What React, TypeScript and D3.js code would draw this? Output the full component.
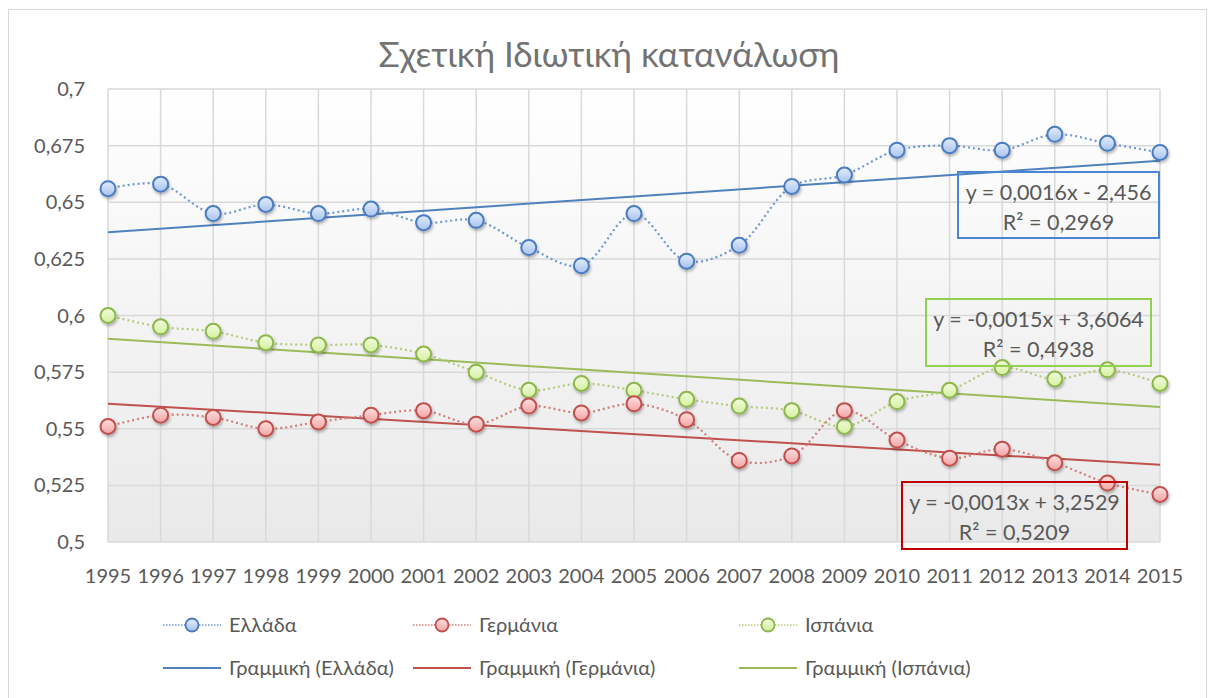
import React, { useRef, useEffect } from 'react';
import * as d3 from 'd3';

const years = d3.range(1995, 2016);
const greece = [0.656, 0.658, 0.645, 0.649, 0.645, 0.647, 0.641, 0.642, 0.630, 0.622, 0.645, 0.624, 0.631, 0.657, 0.662, 0.673, 0.675, 0.673, 0.680, 0.676, 0.672];
const germany = [0.551, 0.556, 0.555, 0.550, 0.553, 0.556, 0.558, 0.552, 0.560, 0.557, 0.561, 0.554, 0.536, 0.538, 0.558, 0.545, 0.537, 0.541, 0.535, 0.526, 0.521];
const spain = [0.600, 0.595, 0.593, 0.588, 0.587, 0.587, 0.583, 0.575, 0.567, 0.570, 0.567, 0.563, 0.560, 0.558, 0.551, 0.562, 0.567, 0.577, 0.572, 0.576, 0.570];
const yTicks = [0.5, 0.525, 0.55, 0.575, 0.6, 0.625, 0.65, 0.675, 0.7];
const seriesNames = ['Ελλάδα', 'Γερμάνια', 'Ισπάνια'];
const equations = [
  ['y = 0,0016x - 2,456', 'R² = 0,2969'],
  ['y = -0,0013x + 3,2529', 'R² = 0,5209'],
  ['y = -0,0015x + 3,6064', 'R² = 0,4938'],
];

const W = 1208;
const H = 698;
const FONT = "Lato, 'Open Sans', sans-serif";

const styles = [
  { line: '#4f81bd', dots: '#6f98d4', stroke: '#4a7bc0', top: '#e2edfc', bottom: '#a8c3ee', box: '#4a86d4' },
  { line: '#c0504d', dots: '#d47c7a', stroke: '#c0504d', top: '#fde0e0', bottom: '#f2a3a3', box: '#c00000' },
  { line: '#9bbb59', dots: '#b0cc7a', stroke: '#8db64b', top: '#f2fcdc', bottom: '#d4f0a0', box: '#92d050' },
];

// least squares fit over the year values
function fit(xs: number[], ys: number[]) {
  const mx = d3.mean(xs) as number;
  const my = d3.mean(ys) as number;
  const num = d3.sum(xs, (x, i) => (x - mx) * (ys[i] - my));
  const den = d3.sum(xs, x => (x - mx) * (x - mx));
  const b = num / den;
  return { b, a: my - b * mx };
}

const App: React.FC = () => {
  const svgRef = useRef<SVGSVGElement>(null);

  useEffect(() => {
    if (!svgRef.current) return;
    const svg = d3.select(svgRef.current);
    svg.selectAll('*').remove();

    const plot = { left: 108, right: 1160, top: 89, bottom: 542 };

    const x = d3.scaleLinear().domain([1995, 2015]).range([plot.left, plot.right]);
    const y = d3.scaleLinear().domain([0.5, 0.7]).range([plot.bottom, plot.top]);

    const defs = svg.append('defs');
    const bg = defs.append('linearGradient').attr('id', 'plot-bg').attr('x1', 0).attr('y1', 0).attr('x2', 0).attr('y2', 1);
    bg.append('stop').attr('offset', '0%').attr('stop-color', '#ffffff');
    bg.append('stop').attr('offset', '100%').attr('stop-color', '#e9e9e9');

    styles.forEach((s, i) => {
      const g = defs.append('linearGradient').attr('id', `marker-${i}`).attr('x1', 0).attr('y1', 0).attr('x2', 0).attr('y2', 1);
      g.append('stop').attr('offset', '0%').attr('stop-color', s.top);
      g.append('stop').attr('offset', '100%').attr('stop-color', s.bottom);
    });

    const shadow = defs.append('filter').attr('id', 'shadow').attr('x', '-50%').attr('y', '-50%').attr('width', '200%').attr('height', '200%');
    shadow.append('feDropShadow').attr('dx', 1).attr('dy', 2).attr('stdDeviation', 1.5).attr('flood-color', '#000').attr('flood-opacity', 0.3);

    // chart frame
    svg.append('rect')
      .attr('x', 8.5).attr('y', 9.5)
      .attr('width', 1198).attr('height', 700)
      .attr('fill', '#ffffff')
      .attr('stroke', '#d9d9d9');

    // plot background
    svg.append('rect')
      .attr('x', plot.left).attr('y', plot.top)
      .attr('width', plot.right - plot.left).attr('height', plot.bottom - plot.top)
      .attr('fill', 'url(#plot-bg)');

    // grid
    svg.append('g').selectAll('line').data(yTicks).enter().append('line')
      .attr('x1', plot.left).attr('x2', plot.right)
      .attr('y1', d => y(d)).attr('y2', d => y(d))
      .attr('stroke', '#d9d9d9').attr('stroke-width', 1.5);

    svg.append('g').selectAll('line').data(years).enter().append('line')
      .attr('x1', d => x(d)).attr('x2', d => x(d))
      .attr('y1', plot.top).attr('y2', plot.bottom)
      .attr('stroke', '#d9d9d9').attr('stroke-width', 1.5);

    // y tick labels
    svg.append('g').selectAll('text').data(yTicks).enter().append('text')
      .attr('x', 85)
      .attr('y', d => y(d) + 7)
      .attr('text-anchor', 'end')
      .style('font-family', FONT)
      .style('font-size', '20px')
      .style('fill', '#595959')
      .text(d => String(d).replace('.', ','));

    // x tick labels
    svg.append('g').selectAll('text').data(years).enter().append('text')
      .attr('x', d => x(d))
      .attr('y', 583)
      .attr('text-anchor', 'middle')
      .style('font-family', FONT)
      .style('font-size', '20px')
      .style('fill', '#595959')
      .text(d => String(d));

    // title
    svg.append('text')
      .attr('x', 609)
      .attr('y', 67)
      .attr('text-anchor', 'middle')
      .style('font-family', FONT)
      .style('font-size', '35px')
      .style('fill', '#737373')
      .text('Σχετική Ιδιωτική κατανάλωση');

    const allSeries = [greece, germany, spain];
    const line = d3.line<number>().x((_, i) => x(years[i])).y(d => y(d)).curve(d3.curveCatmullRom.alpha(0.5));

    // trend lines
    allSeries.forEach((vals, i) => {
      const { a, b } = fit(years, vals);
      svg.append('line')
        .attr('x1', x(1995)).attr('x2', x(2015))
        .attr('y1', y(a + b * 1995)).attr('y2', y(a + b * 2015))
        .attr('stroke', styles[i].line)
        .attr('stroke-width', 2);
    });

    // dotted series lines and markers
    [2, 1, 0].forEach(i => {
      const vals = allSeries[i];
      svg.append('path')
        .datum(vals)
        .attr('d', line)
        .attr('fill', 'none')
        .attr('stroke', styles[i].dots)
        .attr('stroke-width', 2.2)
        .attr('stroke-dasharray', '2,3');

      svg.append('g').attr('filter', 'url(#shadow)')
        .selectAll('circle').data(vals).enter().append('circle')
        .attr('cx', (_, j) => x(years[j]))
        .attr('cy', d => y(d))
        .attr('r', 7.5)
        .attr('fill', `url(#marker-${i})`)
        .attr('stroke', styles[i].stroke)
        .attr('stroke-width', 2);
    });

    // trendline labels
    const boxes = [
      { x0: 958, y0: 172, w: 201, h: 66 },
      { x0: 902, y0: 482, w: 225, h: 67 },
      { x0: 926, y0: 299, w: 225, h: 67 },
    ];
    boxes.forEach((bx, i) => {
      svg.append('rect')
        .attr('x', bx.x0).attr('y', bx.y0)
        .attr('width', bx.w).attr('height', bx.h)
        .attr('fill', 'none')
        .attr('stroke', styles[i].box)
        .attr('stroke-width', 2);
      equations[i].forEach((t, k) => {
        svg.append('text')
          .attr('x', bx.x0 + bx.w / 2)
          .attr('y', bx.y0 + 28 + k * 30)
          .attr('text-anchor', 'middle')
          .style('font-family', FONT)
          .style('font-size', '21.5px')
          .style('fill', '#595959')
          .text(t);
      });
    });

    // legend
    const legendX = [163, 413, 739];
    const legend = svg.append('g');
    seriesNames.forEach((name, i) => {
      const lx = legendX[i];
      const row1 = legend.append('g').attr('transform', `translate(${lx}, 625)`);
      row1.append('line')
        .attr('x1', 0).attr('x2', 58).attr('y1', 0).attr('y2', 0)
        .attr('stroke', styles[i].dots)
        .attr('stroke-width', 1.5)
        .attr('stroke-dasharray', '1.5,1.5');
      row1.append('circle')
        .attr('cx', 29).attr('cy', 0).attr('r', 6.5)
        .attr('fill', `url(#marker-${i})`)
        .attr('stroke', styles[i].stroke)
        .attr('stroke-width', 1.8);
      row1.append('text')
        .attr('x', 66).attr('y', 7)
        .style('font-family', FONT)
        .style('font-size', '20px')
        .style('fill', '#595959')
        .text(name);

      const row2 = legend.append('g').attr('transform', `translate(${lx}, 668)`);
      row2.append('line')
        .attr('x1', 0).attr('x2', 58).attr('y1', 0).attr('y2', 0)
        .attr('stroke', styles[i].line)
        .attr('stroke-width', 2);
      row2.append('text')
        .attr('x', 66).attr('y', 7)
        .style('font-family', FONT)
        .style('font-size', '20px')
        .style('fill', '#595959')
        .text(`Γραμμική (${name})`);
    });
  }, []);

  return (
    <svg
      ref={svgRef}
      width={W}
      height={H}
      style={{ position: 'absolute', left: 0, top: 0, background: '#ffffff' }}
    />
  );
};

export default App;
